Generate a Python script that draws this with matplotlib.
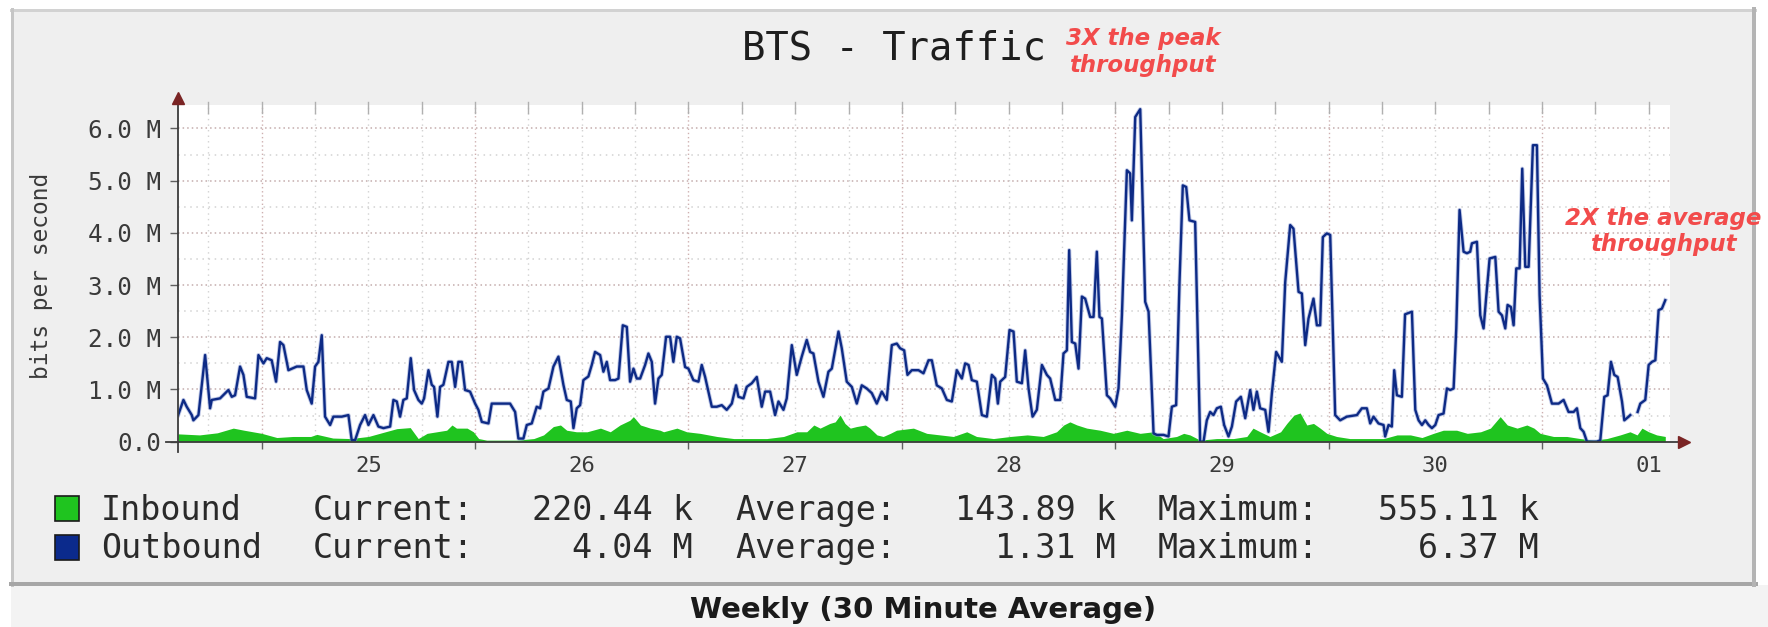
import numpy as np
import matplotlib
matplotlib.use("Agg")
from matplotlib import pyplot as plt
from matplotlib.lines import Line2D
from matplotlib.patches import Rectangle

# hours since midnight of the 25th, values in Mbit/s
out_t = [-9.4, -8.81, -8.44, -7.87, -7.69, -7.12, -6.37, -5.81, -5.62, -4.69, -3.75, -3.37, -3.0,
         -2.44, -2.06, -1.69, -0.75, -0.37, 0.19, 0.56, 1.12, 1.61, 2.06, 2.44, 3.0, 3.94, 4.69,
         5.06, 5.62, 6.0, 6.37, 6.75, 7.12, 7.69, 8.06, 9.0, 9.75, 10.12, 10.5, 11.06, 11.62, 12.0,
         12.56, 13.12, 13.69, 14.44, 14.81, 15.19, 15.56, 15.93, 16.31, 16.76, 17.13, 17.62, 18.0,
         18.26, 18.75, 19.12, 19.38, 19.76, 20.06, 20.43, 21.0, 21.37, 21.75, 22.12, 22.5, 22.87,
         23.43, 24.0, 24.37, 24.75, 25.5, 25.87, 26.43, 27.93, 28.5, 28.87, 29.43, 29.81, 30.37,
         30.93, 31.31, 31.68, 32.25, 32.81, 33.37, 33.93, 34.31, 34.76, 35.06, 35.43, 35.81, 36.18,
         36.74, 37.12, 37.49, 38.06, 38.43, 38.81, 39.18, 39.74, 40.12, 40.61, 41.06, 41.43, 41.81,
         42.18, 42.56, 43.12, 43.49, 43.87, 44.24, 44.62, 44.99, 45.48, 45.93, 46.3, 46.68, 47.05,
         47.62, 47.99, 48.55, 49.12, 49.49, 49.87, 50.62, 51.18, 51.74, 52.3, 52.87, 53.35, 53.62,
         54.18, 54.55, 55.12, 55.68, 56.24, 56.62, 57.18, 57.74, 58.12, 58.68, 59.05, 59.62, 60.18,
         60.74, 61.3, 61.68, 62.05, 62.62, 63.18, 63.74, 64.12, 64.87, 65.24, 65.8, 66.37, 66.93,
         67.49, 68.05, 68.62, 69.18, 69.74, 70.3, 70.87, 71.43, 71.8, 72.26, 72.63, 73.12, 73.87,
         74.43, 75.0, 75.37, 75.93, 76.5, 77.06, 77.62, 78.18, 78.75, 79.12, 79.5, 79.87, 80.43,
         81.0, 81.56, 82.12, 82.5, 82.8, 83.06, 83.62, 84.11, 84.56, 84.93, 85.5, 85.87, 86.25,
         86.7, 87.18, 87.75, 88.31, 88.68, 89.25, 89.81, 90.18, 90.56, 90.82, 91.12, 91.5, 91.87,
         92.25, 92.62, 93.18, 93.56, 93.93, 94.23, 94.5, 95.06, 95.43, 96.0, 96.37, 96.75, 97.31,
         97.68, 97.87, 98.25, 98.81, 99.37, 99.75, 100.31, 100.68, 101.43, 101.99, 102.37, 102.85,
         103.23, 103.6, 103.98, 104.35, 104.99, 105.55, 105.93, 106.3, 106.68, 107.05, 107.43,
         107.88, 108.25, 108.74, 109.12, 109.6, 110.13, 110.62, 111.18, 111.55, 111.93, 112.3,
         112.87, 113.24, 113.62, 114.1, 114.74, 115.12, 115.68, 116.05, 116.62, 116.99, 117.37,
         117.74, 118.3, 118.68, 119.05, 119.35, 119.8, 120.18, 120.74, 121.3, 122.05, 123.18,
         123.74, 124.3, 124.68, 125.05, 125.61, 126.18, 126.36, 126.74, 127.11, 127.38, 127.68,
         128.24, 128.6, 129.37, 129.75, 130.12, 130.5, 130.87, 131.25, 131.62, 132.0, 132.37,
         132.93, 133.31, 133.68, 134.06, 134.36, 134.73, 135.18, 135.56, 135.93, 136.12, 136.68,
         137.06, 137.43, 137.73, 138.11, 138.75, 139.12, 139.5, 139.87, 140.13, 140.51, 140.81,
         141.11, 141.48, 141.78, 142.12, 142.5, 142.98, 143.43, 143.73, 144.11, 144.56, 145.12,
         145.87, 146.43, 146.99, 147.56, 147.93, 148.31, 148.68, 149.06, 150.18, 150.56, 151.01,
         151.38, 151.76, 152.13, 152.51, 153.0, 153.26, 153.75, 153.93, 154.3, 154.76, 155.06,
         155.62, 156.0, 156.37, 156.75, 157.12, 157.49, 157.87]
out_v = [0.51, 0.80, 0.67, 0.51, 0.41, 0.51, 1.66, 0.64, 0.80, 0.83, 0.99, 0.86, 0.89,
         1.44, 1.28, 0.86, 0.83, 1.66, 1.50, 1.60, 1.56, 1.15, 1.91, 1.85, 1.37, 1.44, 1.44,
         0.99, 0.73, 1.44, 1.53, 2.04, 0.48, 0.32, 0.48, 0.48, 0.51, 0.03, 0.03, 0.32, 0.51, 0.32,
         0.51, 0.29, 0.26, 0.29, 0.80, 0.77, 0.48, 0.80, 0.83, 1.60, 0.99, 0.80, 0.73,
         0.83, 1.37, 1.09, 1.05, 0.48, 1.05, 1.09, 1.53, 1.53, 1.05, 1.53, 1.53, 0.99,
         0.96, 0.73, 0.61, 0.38, 0.35, 0.73, 0.73, 0.73, 0.57, 0.06, 0.06, 0.32, 0.35,
         0.67, 0.64, 0.96, 1.02, 1.44, 1.63, 1.09, 0.80, 0.77, 0.26, 0.64, 0.70, 1.18,
         1.25, 1.47, 1.72, 1.66, 1.34, 1.53, 1.18, 1.18, 1.21, 2.23, 2.20, 1.15, 1.40,
         1.21, 1.21, 1.47, 1.69, 1.53, 0.73, 1.21, 1.28, 2.01, 2.01, 1.53, 2.01, 1.98,
         1.43, 1.40, 1.18, 1.15, 1.47, 1.24, 0.67, 0.67, 0.70, 0.61, 0.73, 1.08, 0.86,
         0.83, 1.05, 1.12, 1.24, 0.67, 0.96, 0.96, 0.51, 0.77, 0.61, 0.83, 1.85, 1.28,
         1.63, 1.95, 1.72, 1.69, 1.15, 0.86, 1.34, 1.40, 2.11, 1.79, 1.15, 1.05, 0.73,
         1.08, 1.02, 0.93, 0.73, 0.96, 0.80, 1.85, 1.88, 1.79, 1.75, 1.28, 1.37, 1.37,
         1.31, 1.56, 1.56, 1.08, 1.02, 0.80, 0.77, 1.37, 1.21, 1.50, 1.47, 1.18, 1.15,
         0.51, 0.48, 1.28, 1.21, 0.73, 1.15, 1.24, 2.14, 2.11, 1.15, 1.12, 1.75, 1.02,
         0.48, 0.61, 1.47, 1.28, 1.21, 0.80, 0.80, 1.69, 1.75, 3.67, 1.91, 1.88, 1.40,
         2.78, 2.74, 2.39, 2.39, 3.64, 2.39, 2.36, 0.89, 0.83, 0.67, 1.02, 2.42, 5.20,
         5.14, 4.24, 6.22, 6.37, 2.68, 2.49, 0.16, 0.13, 0.13, 0.10, 0.67, 0.70,
         3.06, 4.91, 4.88, 4.24, 4.21, 0.0, 0.0, 0.41, 0.57, 0.51, 0.64,
         0.67, 0.32, 0.10, 0.29, 0.77, 0.86, 0.45, 0.99, 0.61, 0.96, 0.64,
         0.61, 0.19, 0.93, 1.72, 1.53, 3.06, 4.15, 4.08, 2.87, 2.84, 1.85,
         2.36, 2.74, 2.23, 2.23, 3.92, 3.99, 3.96, 0.51, 0.41, 0.48, 0.51,
         0.64, 0.64, 0.35, 0.48, 0.35, 0.32, 0.10, 0.32, 0.29, 1.37, 0.89,
         0.86, 2.44, 2.49, 0.61, 0.41, 0.32, 0.41, 0.32, 0.26, 0.32, 0.51,
         0.54, 1.02, 0.99, 1.02, 2.17, 4.44, 3.64, 3.61, 3.64, 3.80, 3.83,
         2.42, 2.17, 2.78, 3.51, 3.54, 2.49, 2.42, 2.17, 2.62, 2.58, 2.23,
         3.32, 3.32, 5.23, 3.35, 3.35, 5.68, 5.68, 2.81, 1.21, 1.08, 0.73,
         0.73, 0.80, 0.57, 0.57, 0.64, 0.26, 0.19, 0.0, 0.0, 0.03, 0.86,
         0.89, 1.53, 1.28, 1.24, 0.77, 0.41, 0.48, 0.51, np.nan, 0.57, 0.73,
         0.80, 1.47, 1.53, 1.56, 2.52, 2.55, 2.71]

in_t = [-9.4, -7.0, -5.0, -3.2, -2.0, 0.0, 1.7, 3.5, 5.5, 6.2, 8.0, 10.0, 12.0, 13.7, 15.2, 16.7,
        17.6, 18.6, 19.7, 20.8, 21.4, 21.9, 23.1, 23.8, 24.4, 25.3, 26.8, 28.7, 30.6, 31.7, 32.8,
        33.6, 34.3, 35.4, 36.6, 38.1, 39.2, 40.3, 41.4, 41.8, 42.6, 43.7, 44.8, 45.2, 46.7, 47.8,
        49.3, 51.2, 53.1, 55.0, 56.8, 58.7, 60.2, 61.3, 62.1, 62.8, 63.9, 64.5, 65.05, 65.6, 66.2,
        66.9, 67.9, 68.4, 69.2, 69.9, 70.7, 71.4, 73.3, 74.8, 76.3, 77.8, 79.3, 80.4, 82.3, 84.2,
        86.1, 87.9, 89.4, 90.2, 90.9, 91.7, 92.8, 94.3, 95.8, 97.3, 98.8, 100.3, 101.4, 102.9,
        103.7, 104.4, 105.55, 107.4, 109.3, 110.8, 111.5, 112.3, 113.4, 114.6, 115.3, 116.1,
        116.8, 117.55, 118.3, 119.05, 119.8, 120.9, 122.4, 124.3, 126.2, 127.7, 129.2, 130.5,
        131.8, 132.9, 134.4, 135.6, 137.1, 138.2, 139.3, 140.1, 141.2, 142.3, 143.1, 143.8,
        145.3, 146.8, 148.3, 149.8, 151.3, 152.8, 153.9, 154.7, 155.25, 156.0, 156.9, 157.87]
in_v = [0.15, 0.13, 0.17, 0.26, 0.22, 0.16, 0.08, 0.10, 0.10, 0.14, 0.07, 0.06, 0.10, 0.18, 0.25, 0.27,
        0.06, 0.16, 0.19, 0.22, 0.32, 0.26, 0.26, 0.19, 0.06, 0.03, 0.03, 0.03, 0.06, 0.13, 0.29,
        0.32, 0.22, 0.19, 0.19, 0.26, 0.19, 0.32, 0.41, 0.48, 0.32, 0.26, 0.22, 0.19, 0.26, 0.19,
        0.16, 0.10, 0.06, 0.06, 0.06, 0.10, 0.19, 0.19, 0.32, 0.26, 0.35, 0.38, 0.51, 0.35, 0.26,
        0.29, 0.32, 0.26, 0.13, 0.10, 0.16, 0.22, 0.26, 0.16, 0.13, 0.10, 0.19, 0.10, 0.06, 0.10,
        0.13, 0.10, 0.19, 0.32, 0.38, 0.32, 0.26, 0.22, 0.16, 0.22, 0.16, 0.19, 0.06, 0.10,
        0.16, 0.13, 0.03, 0.06, 0.06, 0.10, 0.26, 0.19, 0.10, 0.19, 0.35, 0.51,
        0.55, 0.32, 0.35, 0.26, 0.16, 0.10, 0.06, 0.06, 0.06, 0.13, 0.13, 0.08,
        0.16, 0.22, 0.22, 0.16, 0.19, 0.26, 0.48, 0.32, 0.26, 0.32, 0.26, 0.16,
        0.10, 0.10, 0.06, 0.03, 0.06, 0.13, 0.19, 0.13, 0.26, 0.19, 0.13, 0.10]

day_labels = ['25', '26', '27', '28', '29', '30', '01']
y_ticks = [0, 1, 2, 3, 4, 5, 6]
y_labels = ['0.0', '1.0 M', '2.0 M', '3.0 M', '4.0 M', '5.0 M', '6.0 M']

names = ['Inbound', 'Outbound']
current = ['220.44 k', '4.04 M']
average = ['143.89 k', '1.31 M']
maximum = ['555.11 k', '6.37 M']
swatch = ['#1fc41f', '#0b2a8c']

W, H = 1768, 627


def P(x, y):
    return x / W, 1 - y / H


fig = plt.figure(figsize=(W / 100, H / 100), dpi=100)
fig.patch.set_facecolor('white')

# panel and frame
fig.add_artist(Rectangle(P(11, 627), (W - 11) / W, 42 / H, transform=fig.transFigure,
                         fc='#f3f3f3', ec='none', zorder=0))
fig.add_artist(Rectangle(P(11, 585), (1755 - 11) / W, (585 - 9) / H, transform=fig.transFigure,
                         fc='#efefef', ec='none', zorder=0))
for (x1, y1, x2, y2, c, w) in [(11, 10, 1755, 10, '#d2d2d2', 3), (12, 9, 12, 585, '#c6c6c6', 3),
                               (11, 584, 1756, 584, '#a6a6a6', 4), (1754, 9, 1754, 585, '#b4b4b4', 4)]:
    fig.add_artist(Line2D([P(x1, y1)[0], P(x2, y2)[0]], [P(x1, y1)[1], P(x2, y2)[1]],
                          transform=fig.transFigure, color=c, lw=w * 0.72, zorder=1))

x0, x1 = -9.42, 158.4
y0, y1 = 0, 6.45
ax = fig.add_axes([178 / W, 1 - 441.7 / H, (1670 - 178) / W, (441.7 - 105) / H])
ax.set_facecolor('white')
ax.set_xlim(x0, x1)
ax.set_ylim(y0, y1)
for s in ax.spines.values():
    s.set_visible(False)

# grid
for v in np.arange(0.5, 6.45, 0.5):
    major = abs(v - round(v)) < 1e-6
    ax.axhline(v, color='#c4acac' if major else '#d2d2d2', lw=1.1,
               ls=(0, (1, 2)) if major else (0, (1, 3)), zorder=1)
for h in range(-6, 159, 6):
    major = h % 24 == 0
    ax.axvline(h, color='#ceb0b0' if major else '#d2d2d2', lw=1.0,
               ls=(0, (1, 2)) if major else (0, (1, 3)), zorder=1)
    ax.plot([h, h], [0.975, 1.01], transform=ax.get_xaxis_transform(), color='#b0b0b0',
            lw=1, clip_on=False, zorder=2)

ax.fill_between(in_t, 0, in_v, color='#1fc41f', lw=0, zorder=3)
ax.plot(out_t, out_v, color='#8c9cd2', lw=3.0, alpha=0.55, zorder=4)
ax.plot(out_t, out_v, color='#0d2a85', lw=1.7, zorder=5)

# ticks
mono = 'DejaVu Sans Mono'
ax.set_yticks(y_ticks)
ax.set_yticklabels(y_labels, family=mono, fontsize=17.5, color='#3a3a3a')
ax.tick_params(axis='y', length=6, width=1, color='#606060', pad=6)
ax.set_xticks(range(0, 145, 24))
ax.set_xticklabels([])
ax.tick_params(axis='x', which='major', length=5, width=1, color='#606060')
ax.set_xticks([12 + 24 * k for k in range(len(day_labels))], minor=True)
ax.set_xticklabels(day_labels, minor=True, family=mono, fontsize=16, color='#3a3a3a')
ax.tick_params(axis='x', which='minor', length=0, pad=10)

# axis lines with arrows
axis_c = '#3c3c3c'
arrow_c = '#7a2424'
fig.add_artist(Line2D([P(178, 452)[0], P(178, 100)[0]], [P(178, 452)[1], P(178, 100)[1]],
                      transform=fig.transFigure, color=axis_c, lw=1.3, zorder=5))
fig.add_artist(Line2D([P(166, 441.7)[0], P(1680, 441.7)[0]], [P(166, 441.7)[1], P(1680, 441.7)[1]],
                      transform=fig.transFigure, color=axis_c, lw=1.3, zorder=5))
fig.add_artist(Line2D([P(178, 98)[0]], [P(178, 98)[1]], transform=fig.transFigure, marker='^',
                      markersize=9, color=arrow_c, zorder=6))
fig.add_artist(Line2D([P(1684, 441.7)[0]], [P(1684, 441.7)[1]], transform=fig.transFigure, marker='>',
                      markersize=9, color=arrow_c, zorder=6))

# texts
fig.text(*P(894, 60), 'BTS - Traffic', family=mono, fontsize=28, color='#1e1e1e',
         ha='center', va='baseline')
fig.text(*P(42, 276), 'bits per second', family=mono, fontsize=16.5, color='#3a3a3a',
         rotation=90, ha='center', va='center')

red = '#f24b4b'
for (cx, by, s) in [(1143, 45, '3X the peak'), (1142, 72, 'throughput'),
                    (1663, 225, '2X the average'), (1663, 251, 'throughput')]:
    fig.text(*P(cx, by), s, family='DejaVu Sans', weight='bold', style='italic',
             fontsize=16.5, color=red, ha='center', va='baseline', zorder=10)

fig.text(*P(923, 618), 'Weekly (30 Minute Average)', family='DejaVu Sans', weight='bold',
         fontsize=21, color='#1a1a1a', ha='center', va='baseline')

# legend rows
lx0, cw = 101, 21.14
for i, (base, top) in enumerate([(520, 496), (558, 535)]):
    fig.add_artist(Rectangle(P(55, top + 24.5), 24 / W, 24.5 / H, transform=fig.transFigure,
                             fc=swatch[i], ec='#1a1a1a', lw=1.2, zorder=5))
    kw = dict(family=mono, fontsize=24, color='#2a2a2a', va='baseline')
    fig.text(*P(lx0, base), names[i], ha='left', **kw)
    fig.text(*P(lx0 + 10 * cw, base), 'Current:', ha='left', **kw)
    fig.text(*P(lx0 + 28 * cw, base), current[i], ha='right', **kw)
    fig.text(*P(lx0 + 30 * cw, base), 'Average:', ha='left', **kw)
    fig.text(*P(lx0 + 48 * cw, base), average[i], ha='right', **kw)
    fig.text(*P(lx0 + 50 * cw, base), 'Maximum:', ha='left', **kw)
    fig.text(*P(lx0 + 68 * cw, base), maximum[i], ha='right', **kw)

fig.savefig('out.png', dpi=100, facecolor=fig.get_facecolor())
